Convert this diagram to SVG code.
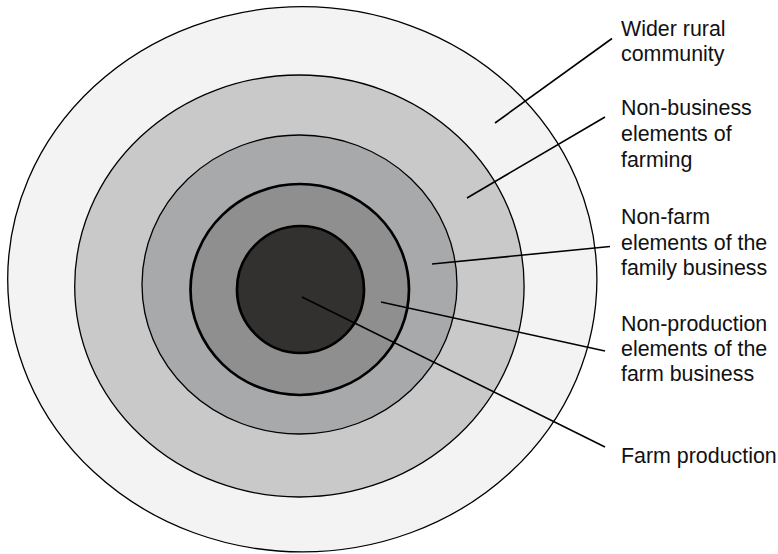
<svg xmlns="http://www.w3.org/2000/svg" width="778" height="554" viewBox="0 0 778 554">
<style>
.thin{stroke:#000;stroke-width:1.3}
.thick{stroke:#000;stroke-width:2.7}
.lead{stroke:#000;stroke-width:1.6;fill:none}
text{font-family:"Liberation Sans",Arial,sans-serif;font-size:21.4px;fill:#111}
</style>
<rect width="778" height="554" fill="#fff"/>
<g id="ring-wider-rural-community"><ellipse class="thin" cx="302.3" cy="279.3" rx="294.6" ry="272.6" fill="#f3f3f3"/></g>
<g id="ring-non-business"><ellipse class="thin" cx="299.4" cy="286" rx="224.7" ry="211" fill="#c8c9c8"/></g>
<g id="ring-non-farm"><ellipse class="thin" cx="299.5" cy="284.5" rx="157.5" ry="149.5" fill="#a8a9ab"/></g>
<g id="ring-non-production"><ellipse class="thick" cx="299.75" cy="289.5" rx="109.25" ry="105.5" fill="#8f8f8f"/></g>
<g id="ring-farm-production"><ellipse class="thick" cx="300.5" cy="289.5" rx="63.5" ry="63.5" fill="#333130"/></g>
<g id="connectors">
<line class="lead" x1="495" y1="123" x2="612" y2="38.5"/>
<line class="lead" x1="467" y1="198" x2="605" y2="117"/>
<line class="lead" x1="432" y1="264" x2="610" y2="246.5"/>
<line class="lead" x1="381" y1="302" x2="605" y2="351"/>
<line class="lead" x1="302" y1="297" x2="605" y2="447"/>
</g>
<g id="label-wider-rural-community"><text x="621" y="35.5">Wider rural</text><text x="621" y="61.2">community</text></g>
<g id="label-non-business"><text x="621" y="115">Non-business</text><text x="621" y="141">elements of</text><text x="621" y="166.7">farming</text></g>
<g id="label-non-farm"><text x="621" y="223.5">Non-farm</text><text x="621" y="249.5">elements of the</text><text x="621" y="275">family business</text></g>
<g id="label-non-production"><text x="621" y="330.5">Non-production</text><text x="621" y="356">elements of the</text><text x="621" y="381">farm business</text></g>
<g id="label-farm-production"><text x="621" y="462.5">Farm production</text></g>
</svg>
